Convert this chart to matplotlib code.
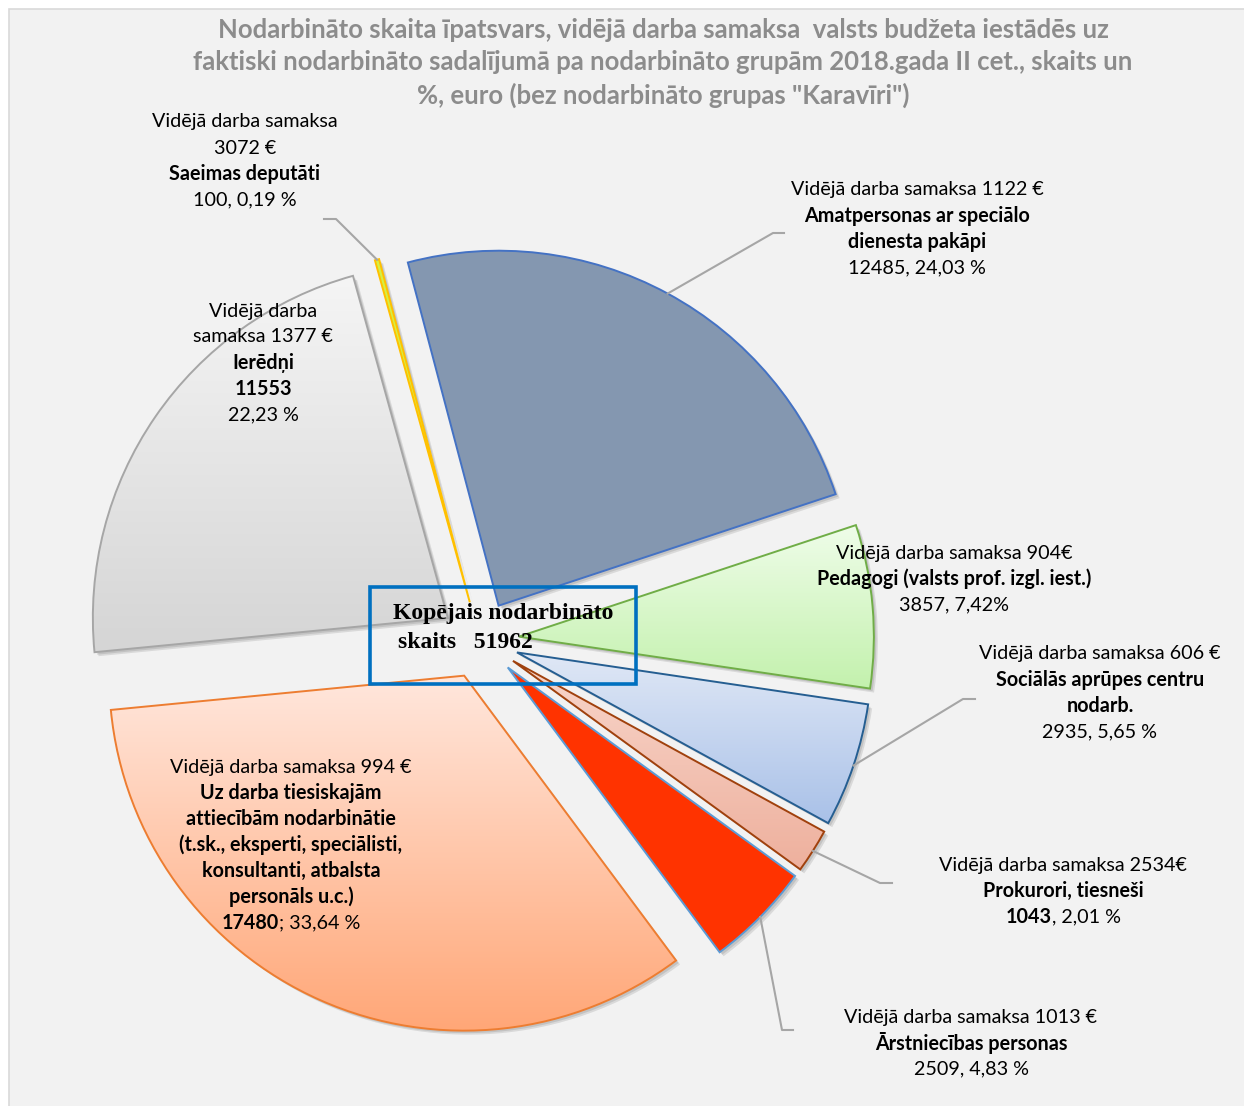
import matplotlib
matplotlib.use("Agg")
import matplotlib.pyplot as plt
import numpy as np
from matplotlib.patches import Wedge, Rectangle
from matplotlib.colors import LinearSegmentedColormap

W, H = 1244, 1106

# data
groups = ["Saeimas deputāti", "Amatpersonas ar speciālo dienesta pakāpi",
          "Pedagogi (valsts prof. izgl. iest.)", "Sociālās aprūpes centru nodarb.",
          "Prokurori, tiesneši", "Ārstniecības personas",
          "Uz darba tiesiskajām attiecībām nodarbinātie", "Ierēdņi"]
counts = [100, 12485, 3857, 2935, 1043, 2509, 17480, 11553]
salaries = [3072, 1122, 904, 606, 2534, 1013, 994, 1377]
total = sum(counts)

def pct(n):
    return ("%.2f" % (n / total * 100)).replace(".", ",")

# styles: (top colour, bottom colour, edge colour)
styles = [("#D4F046", "#D4F046", "#FFC000"),
          ("#8497B0", "#8497B0", "#4472C4"),
          ("#EFFDE9", "#C3F1AD", "#70AD47"),
          ("#E0E8F6", "#A9C1E8", "#255E91"),
          ("#F8D6CB", "#EEB09D", "#A0410D"),
          ("#FF3300", "#FF3300", "#5B9BD5"),
          ("#FFE7DD", "#FFA676", "#ED7D31"),
          ("#F5F5F5", "#D5D5D5", "#A6A6A6")]

# label lines: list of segments (text, bold)
labels = [
    [[("Vidējā darba samaksa", False)], [("%d €" % salaries[0], False)],
     [("Saeimas deputāti", True)], [("%d, %s %%" % (counts[0], pct(counts[0])), False)]],
    [[("Vidējā darba samaksa %d €" % salaries[1], False)], [("Amatpersonas ar speciālo", True)],
     [("dienesta pakāpi", True)], [("%d, %s %%" % (counts[1], pct(counts[1])), False)]],
    [[("Vidējā darba samaksa %d€" % salaries[2], False)], [("Pedagogi (valsts prof. izgl. iest.)", True)],
     [("%d, %s%%" % (counts[2], pct(counts[2])), False)]],
    [[("Vidējā darba samaksa %d €" % salaries[3], False)], [("Sociālās aprūpes centru", True)],
     [("nodarb.", True)], [("%d, %s %%" % (counts[3], pct(counts[3])), False)]],
    [[("Vidējā darba samaksa %d€" % salaries[4], False)], [("Prokurori, tiesneši", True)],
     [("%d" % counts[4], True), (", %s %%" % pct(counts[4]), False)]],
    [[("Vidējā darba samaksa %d €" % salaries[5], False)], [("Ārstniecības personas", True)],
     [("%d, %s %%" % (counts[5], pct(counts[5])), False)]],
    [[("Vidējā darba samaksa %d €" % salaries[6], False)], [("Uz darba tiesiskajām", True)],
     [("attiecībām nodarbinātie", True)], [("(t.sk., eksperti, speciālisti,", True)],
     [("konsultanti, atbalsta", True)], [("personāls u.c.)", True)],
     [("%d" % counts[6], True), ("; %s %%" % pct(counts[6]), False)]],
    [[("Vidējā darba", False)], [("samaksa %d €" % salaries[7], False)],
     [("Ierēdņi", True)], [("%d" % counts[7], True)], [("%s %%" % pct(counts[7]), False)]],
]
# label anchor (center x, first line y) in pixels
label_pos = [(245, 122), (917, 190), (954, 553), (1100, 654),
             (1063, 865), (971, 1017), (291, 767), (263, 311)]
# leader elbow and end points, pixels (None = no leader)
leaders = [((336, 219), (324, 219)), ((773, 233), (784, 233)), None,
           ((963, 699), (975, 699)), ((880, 883), (892, 883)),
           ((782, 1030), (793, 1030)), None, None]

fig = plt.figure(figsize=(W / 100, H / 100), dpi=100)
fig.patch.set_facecolor("white")
ax = fig.add_axes([0, 0, 1, 1])
ax.set_xlim(0, W)
ax.set_ylim(0, H)
ax.axis("off")

ax.add_patch(Rectangle((8.5, -5), W, H - 8.5 + 5, facecolor="#F2F2F2",
                       edgecolor="#D9D9D9", lw=1.2, zorder=0))

# explode is in data units (pixels here)
wedges, _ = ax.pie(counts, explode=[39] * len(counts), center=(480, H - 640),
                   radius=355, startangle=105.5, counterclock=False, frame=True,
                   wedgeprops=dict(linewidth=1.4))
ax.set_xlim(0, W)
ax.set_ylim(0, H)
ax.axis("off")

for w, (top, bot, edge) in zip(wedges, styles):
    cx, cy = w.center
    for off, a in [((4, -4), 0.10), ((2.5, -2.5), 0.10)]:
        ax.add_patch(Wedge((cx + off[0], cy + off[1]), w.r, w.theta1, w.theta2,
                           facecolor="black", edgecolor="none", alpha=a, zorder=0.3))
    w.set_edgecolor(edge)
    w.set_zorder(1)
    if top == bot:
        w.set_facecolor(top)
    else:
        v = w.get_path().vertices
        cmap = LinearSegmentedColormap.from_list("g", [bot, top])
        im = ax.imshow(np.linspace(0, 1, 256)[:, None], cmap=cmap, origin="lower",
                       extent=[v[:, 0].min(), v[:, 0].max(), v[:, 1].min(), v[:, 1].max()],
                       aspect="auto", zorder=0.6)
        im.set_clip_path(w)
        w.set_facecolor("none")

ax.set_xlim(0, W)
ax.set_ylim(0, H)
ax.set_aspect("auto")

# leader lines from the middle of each wedge's arc
for w, ld in zip(wedges, leaders):
    if ld is None:
        continue
    mid = np.deg2rad((w.theta1 + w.theta2) / 2)
    sx = w.center[0] + w.r * np.cos(mid)
    sy = w.center[1] + w.r * np.sin(mid)
    (ex, ey), (tx, ty) = ld
    ax.plot([sx, ex, tx], [sy, H - ey, H - ty], color="#A6A6A6", lw=1.5, zorder=2)

# labels
fig.canvas.draw()
rend = fig.canvas.get_renderer()
fs = 14.2
for lines, (lx, ly) in zip(labels, label_pos):
    for i, segs in enumerate(lines):
        y = H - (ly + 26 * i)
        widths = []
        for txt, b in segs:
            t = ax.text(0, 0, txt, fontsize=fs, family="Lato",
                        fontweight="bold" if b else "normal")
            bb = t.get_window_extent(rend)
            widths.append(bb.width)
            t.remove()
        x = lx - sum(widths) / 2
        for (txt, b), wd in zip(segs, widths):
            ax.text(x, y, txt, fontsize=fs, family="Lato",
                    fontweight="bold" if b else "normal", ha="left", va="center",
                    color="black", zorder=5)
            x += wd

# title
title = ["Nodarbināto skaita īpatsvars, vidējā darba samaksa  valsts budžeta iestādēs uz",
         "faktiski nodarbināto sadalījumā pa nodarbināto grupām 2018.gada II cet., skaits un",
         "%, euro (bez nodarbināto grupas \"Karavīri\")"]
for i, line in enumerate(title):
    ax.text(663, H - (30 + 32.5 * i), line, fontsize=18.5, family="Lato",
            fontweight="bold", color="#8C8C8C", ha="center", va="center")

# total box
ax.add_patch(Rectangle((370, H - 684), 266, 97, facecolor="none",
                       edgecolor="#0070C0", lw=2.6, zorder=4))
ax.text(393, H - 614, "Kopējais nodarbināto", fontsize=17, family="Liberation Serif",
        fontweight="bold", ha="left", va="center", zorder=5)
ax.text(398, H - 643, "skaits   %d" % total, fontsize=17, family="Liberation Serif",
        fontweight="bold", ha="left", va="center", zorder=5)

plt.savefig("out.png", dpi=100)
